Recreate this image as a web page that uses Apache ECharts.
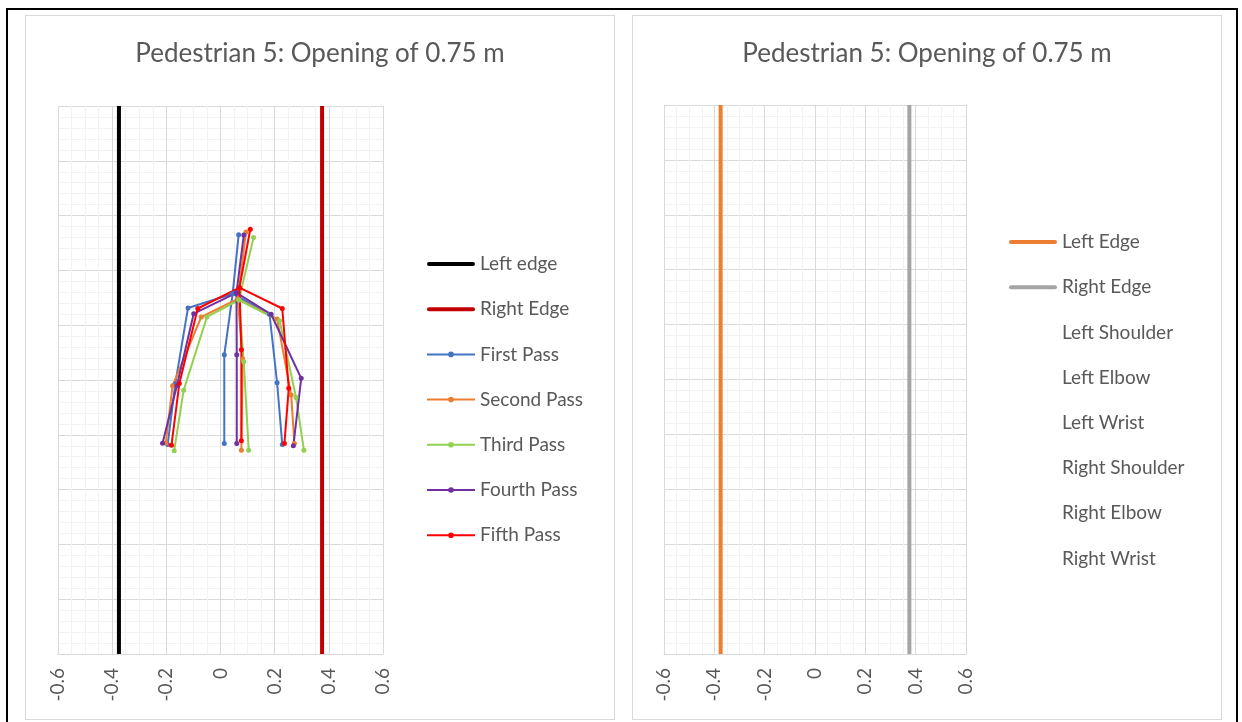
<!DOCTYPE html>
<html>
<head>
<meta charset="utf-8">
<title>Pedestrian 5</title>
<script src="https://cdn.jsdelivr.net/npm/echarts@6/dist/echarts.min.js"></script>
<style>
html, body { margin: 0; padding: 0; background: #fff; width: 1242px; height: 722px; overflow: hidden; }
#frame { position: absolute; left: 6px; top: 8px; width: 1228px; height: 730px; border: 2px solid #000; }
.box { position: absolute; top: 15px; width: 588px; height: 703px; border: 1px solid #d9d9d9; background: #fff; }
#chart_1 { left: 25px; }
#chart_2 { left: 632px; }
</style>
</head>
<body>
<div id="frame"></div>
<div id="chart_1" class="box"></div>
<div id="chart_2" class="box"></div>
<script>
// 边界位置 (m)
var leftEdge = [[-0.375, 0], [-0.375, 2]];
var rightEdge = [[0.375, 0], [0.375, 2]];

// 每次通过: head, neck, spine, hip, (gap), L wrist, L elbow, L shoulder, neck, R shoulder, R elbow, R wrist
var firstPass = [[0.067, 1.530], [0.045, 1.315], [0.014, 1.092], [0.014, 0.768], ['-', '-'],
	[-0.195, 0.765], [-0.167, 0.986], [-0.120, 1.263], [0.045, 1.315], [0.181, 1.240], [0.209, 0.990], [0.228, 0.765]];
var secondPass = [[0.094, 1.540], [0.064, 1.296], [0.082, 1.077], [0.077, 0.744], ['-', '-'],
	[-0.202, 0.770], [-0.177, 0.979], [-0.071, 1.230], [0.064, 1.296], [0.209, 1.223], [0.261, 0.945], [0.273, 0.768]];
var thirdPass = [[0.122, 1.520], [0.068, 1.292], [0.086, 1.067], [0.104, 0.744], ['-', '-'],
	[-0.171, 0.742], [-0.136, 0.963], [-0.050, 1.230], [0.068, 1.292], [0.218, 1.216], [0.279, 0.936], [0.308, 0.744]];
var fourthPass = [[0.086, 1.529], [0.059, 1.318], [0.060, 1.092], [0.060, 0.768], ['-', '-'],
	[-0.214, 0.769], [-0.161, 0.979], [-0.099, 1.242], [0.059, 1.318], [0.187, 1.240], [0.298, 1.006], [0.269, 0.760]];
var fifthPass = [[0.110, 1.550], [0.070, 1.337], [0.077, 1.110], [0.077, 0.778], ['-', '-'],
	[-0.181, 0.762], [-0.152, 0.987], [-0.084, 1.261], [0.070, 1.337], [0.228, 1.261], [0.252, 0.970], [0.236, 0.768]];

var passNames = ['First Pass', 'Second Pass', 'Third Pass', 'Fourth Pass', 'Fifth Pass'];
var rightNames = ['Left Edge', 'Right Edge', 'Left Shoulder', 'Left Elbow', 'Left Wrist', 'Right Shoulder', 'Right Elbow', 'Right Wrist'];
var titleText = 'Pedestrian 5: Opening of 0.75 m';

var FONT = 'Lato, "Open Sans", sans-serif';
var TEXT = '#595959';
var BAR_ICON = 'path://M2,0H46A2,2,0,0,1,46,4H2A2,2,0,0,1,2,0Z';

function xAxisOpt() {
	return {
		type: 'value',
		min: -0.6,
		max: 0.6,
		interval: 0.2,
		axisLine: { show: true, lineStyle: { color: '#d9d9d9', width: 1 } },
		axisTick: { show: false },
		axisLabel: { rotate: 90, margin: 14, color: TEXT, fontSize: 19, fontFamily: FONT },
		splitLine: { show: true, lineStyle: { color: '#d9d9d9', width: 1 } },
		minorTick: { show: false, splitNumber: 4 },
		minorSplitLine: { show: true, lineStyle: { color: '#f2f2f2', width: 1 } }
	};
}

function yAxisOpt() {
	return {
		type: 'value',
		min: 0,
		max: 2,
		interval: 0.2,
		axisLine: { show: false },
		axisTick: { show: false },
		axisLabel: { show: false },
		splitLine: { show: true, lineStyle: { color: '#d9d9d9', width: 1 } },
		minorTick: { show: false, splitNumber: 5 },
		minorSplitLine: { show: true, lineStyle: { color: '#f2f2f2', width: 1 } }
	};
}

function titleOpt() {
	return {
		text: titleText,
		left: 'center',
		top: 20,
		textStyle: { color: TEXT, fontSize: 26, fontWeight: 'normal', fontFamily: FONT }
	};
}

function legendOpt(left, top, data) {
	return {
		orient: 'vertical',
		left: left,
		top: top,
		padding: 0,
		itemWidth: 48,
		itemHeight: 7,
		itemGap: 26.2,
		textStyle: { color: TEXT, fontSize: 19, fontFamily: FONT },
		data: data
	};
}

function edgeSeries(name, data, color) {
	return {
		name: name,
		type: 'line',
		data: data,
		symbol: 'none',
		color: color,
		lineStyle: { width: 4, color: color },
		z: 3
	};
}

function echart_1() {
	var myChart = echarts.init(document.getElementById('chart_1'));
	var passData = [firstPass, secondPass, thirdPass, fourthPass, fifthPass];
	var colors = ['#4472c4', '#ed7d31', '#92d050', '#7030a0', '#ff0000'];
	var series = [
		edgeSeries('Left edge', leftEdge, '#000000'),
		edgeSeries('Right Edge', rightEdge, '#c00000')
	];
	for (var i = 0; i < passData.length; i++) {
		series.push({
			name: passNames[i],
			type: 'line',
			data: passData[i],
			connectNulls: false,
			symbol: 'circle',
			symbolSize: 5,
			color: colors[i],
			lineStyle: { width: 2, color: colors[i] },
			z: 4
		});
	}
	var legendData = [
		{ name: 'Left edge', icon: BAR_ICON },
		{ name: 'Right Edge', icon: BAR_ICON }
	].concat(passNames);
	var option = {
		animation: false,
		title: titleOpt(),
		legend: legendOpt(400, 238.5, legendData),
		grid: { left: 32, top: 90, width: 325, height: 548 },
		xAxis: xAxisOpt(),
		yAxis: yAxisOpt(),
		series: series
	};
	myChart.setOption(option);
}

function echart_2() {
	var myChart = echarts.init(document.getElementById('chart_2'));
	var series = [
		edgeSeries(rightNames[0], leftEdge, '#ed7d31'),
		edgeSeries(rightNames[1], rightEdge, '#a5a5a5')
	];
	// 其余图例项没有数据
	for (var i = 2; i < rightNames.length; i++) {
		series.push({
			name: rightNames[i],
			type: 'line',
			data: [],
			symbol: 'none',
			color: 'rgba(0,0,0,0)',
			lineStyle: { width: 0, color: 'rgba(0,0,0,0)' }
		});
	}
	var legendData = [
		{ name: rightNames[0], icon: BAR_ICON },
		{ name: rightNames[1], icon: BAR_ICON }
	].concat(rightNames.slice(2));
	var option = {
		animation: false,
		title: titleOpt(),
		legend: legendOpt(376, 216.5, legendData),
		grid: { left: 31, top: 89, width: 302, height: 549 },
		xAxis: xAxisOpt(),
		yAxis: yAxisOpt(),
		series: series
	};
	myChart.setOption(option);
}

echart_1();
echart_2();
</script>
</body>
</html>
